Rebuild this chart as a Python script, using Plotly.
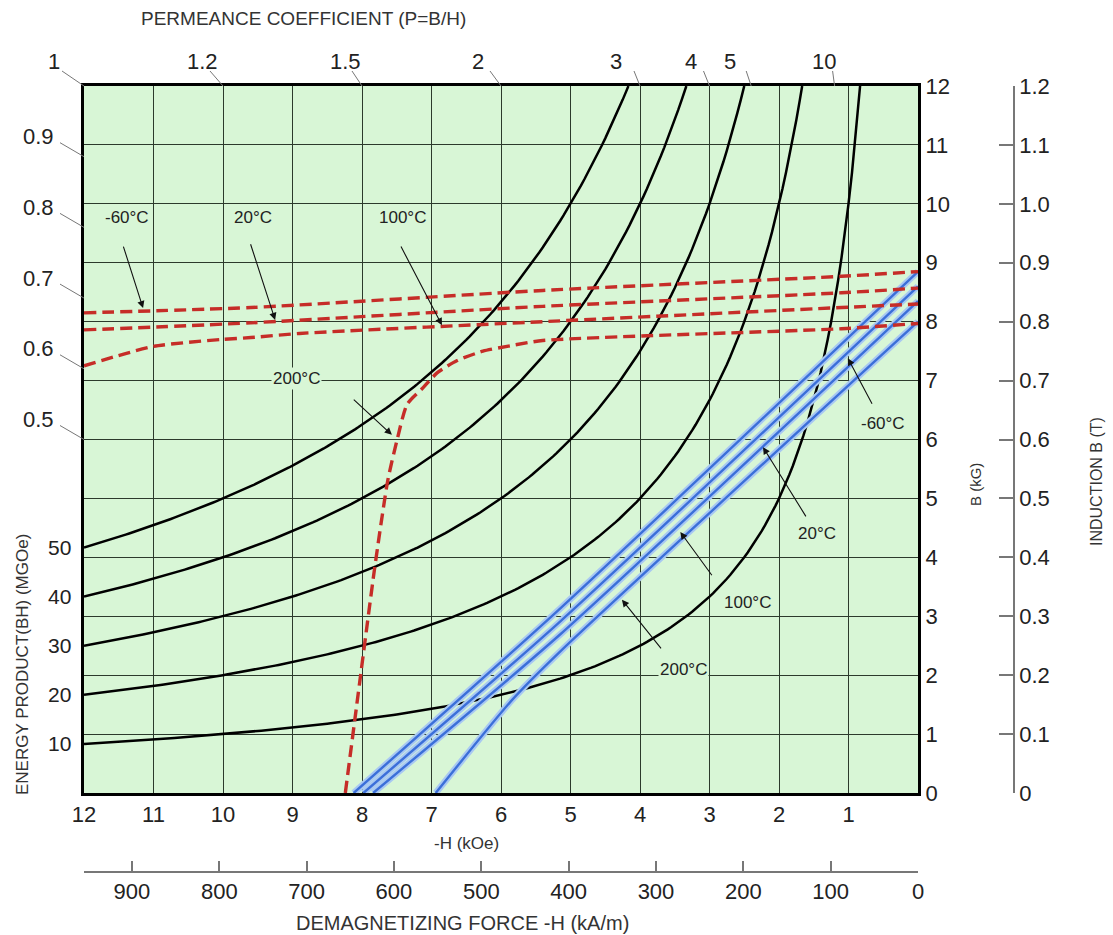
import plotly.graph_objects as go

# ---------------- data ----------------
# iso energy-product curves (MGOe): B*H = const
energy_levels = [10, 20, 30, 40, 50]

# intrinsic curves (red dashed): H (kOe), B (kG)
red_m60_H = [12, 9.6, 5.4, 1.1, 0]
red_m60_B = [8.15, 8.24, 8.53, 8.77, 8.85]
red_20_H = [12, 9.6, 5.4, 1.1, 0]
red_20_B = [7.86, 7.98, 8.26, 8.49, 8.57]
red_100_H = [12, 11, 10, 9.6, 8.9, 5.4, 1.1, 0]
red_100_B = [7.25, 7.58, 7.70, 7.73, 7.80, 8.00, 8.24, 8.30]
red_200_H = [8.24, 8.02, 7.82, 7.63, 7.50, 7.35, 7.12, 6.92, 6.63, 6.26, 5.87, 5.4, 1.1, 0]
red_200_B = [0.0, 2.0, 3.8, 5.3, 5.97, 6.60, 6.88, 7.13, 7.34, 7.50, 7.59, 7.68, 7.88, 7.97]

# normal curves (blue)
blue_m60_H = [8.12, 5.15, 0]
blue_m60_B = [0.0, 3.13, 8.85]
blue_20_H = [7.98, 5.15, 0]
blue_20_B = [0.0, 2.91, 8.60]
blue_100_H = [7.84, 5.15, 0]
blue_100_B = [0.0, 2.69, 8.35]
blue_200_H = [6.94, 5.84, 5.15, 0]
blue_200_B = [0.0, 1.58, 2.40, 8.00]

# axis tick values
H_ticks = [12, 11, 10, 9, 8, 7, 6, 5, 4, 3, 2, 1]
B_ticks = [0, 1, 2, 3, 4, 5, 6, 7, 8, 9, 10, 11, 12]
T_ticks = [0, 0.1, 0.2, 0.3, 0.4, 0.5, 0.6, 0.7, 0.8, 0.9, 1.0, 1.1, 1.2]
T_text = ["0", "0.1", "0.2", "0.3", "0.4", "0.5", "0.6", "0.7", "0.8", "0.9", "1.0", "1.1", "1.2"]
kAm_ticks = [900, 800, 700, 600, 500, 400, 300, 200, 100, 0]
top_P = [1, 1.2, 1.5, 2, 3, 4, 5, 10]
top_P_text = ["1", "1.2", "1.5", "2", "3", "4", "5", "10"]
left_P = [0.9, 0.8, 0.7, 0.6, 0.5]

# temperature labels: (text, text H, text B, tail H, tail B, tip H, tip B)
red_labels = [
    ("-60°C", 11.38, 9.76, 11.44, 9.30, 11.15, 8.23),
    ("20°C", 9.57, 9.76, 9.61, 9.34, 9.25, 8.03),
    ("100°C", 7.42, 9.76, 7.45, 9.30, 6.85, 7.94),
    ("200°C", 8.94, 7.04, 8.14, 6.70, 7.57, 6.08),
]
blue_labels = [
    ("-60°C", 0.50, 6.28, 0.65, 6.58, 1.01, 7.38),
    ("20°C", 1.45, 4.41, 1.60, 4.67, 2.23, 5.87),
    ("100°C", 2.45, 3.24, 2.95, 3.67, 3.42, 4.43),
    ("200°C", 3.38, 2.09, 3.68, 2.43, 4.26, 3.28),
]

KAM_PER_KOE = 79.577

# ---------------- layout geometry (pixels) ----------------
W, HGT = 1113, 935
PL, PR, PT, PB = 84, 918, 86, 793      # plot frame
AX2_Y = 872                            # kA/m axis line
AXT_X = 1014                           # Tesla axis line
paper_w = AXT_X - PL
paper_h = AX2_Y - PT
xdom = [0, (PR - PL) / paper_w]
ydom = [(AX2_Y - PB) / paper_h, 1]


def px(x):
    return (x - PL) / paper_w


def py(y):
    return (AX2_Y - y) / paper_h


def hx(h):  # H value -> pixel
    return PL + (12 - h) / 12 * (PR - PL)


def by(b):  # B value -> pixel
    return PB - b / 12 * (PB - PT)


FONT = "Liberation Sans, Arial, sans-serif"
GREEN = "#d8f6d6"
RED = "#c62d28"
BLUE = "#3b6fd9"
HALO = "#a8c8f2"

fig = go.Figure()

# black iso-energy curves
for E in energy_levels:
    hs = []
    h = 12.0
    hmin = E / 12.0
    while h > hmin:
        hs.append(h)
        h -= 0.05
    hs.append(hmin)
    fig.add_trace(go.Scatter(x=hs, y=[E / v for v in hs], mode="lines",
                             line=dict(color="black", width=2.5),
                             hoverinfo="skip", showlegend=False))

blue_sets = [(blue_m60_H, blue_m60_B), (blue_20_H, blue_20_B),
             (blue_100_H, blue_100_B), (blue_200_H, blue_200_B)]
# blue normal curves (halo + line)
for hh, bb in blue_sets:
    fig.add_trace(go.Scatter(x=hh, y=bb, mode="lines",
                             line=dict(color=HALO, width=6.5, shape="spline", smoothing=0.6),
                             hoverinfo="skip", showlegend=False))
for hh, bb in blue_sets:
    fig.add_trace(go.Scatter(x=hh, y=bb, mode="lines",
                             line=dict(color=BLUE, width=2.4, shape="spline", smoothing=0.6),
                             hoverinfo="skip", showlegend=False))

# red dashed intrinsic curves
for hh, bb in [(red_m60_H, red_m60_B), (red_20_H, red_20_B),
               (red_100_H, red_100_B), (red_200_H, red_200_B)]:
    fig.add_trace(go.Scatter(x=hh, y=bb, mode="lines",
                             line=dict(color=RED, width=3.4, dash="12px,6px",
                                       shape="spline", smoothing=0.6),
                             hoverinfo="skip", showlegend=False))

# dummy traces so the secondary axes exist
fig.add_trace(go.Scatter(x=[500], y=[5], xaxis="x2", yaxis="y", mode="markers",
                         marker=dict(opacity=0), hoverinfo="skip", showlegend=False))
fig.add_trace(go.Scatter(x=[5], y=[0.5], xaxis="x", yaxis="y2", mode="markers",
                         marker=dict(opacity=0), hoverinfo="skip", showlegend=False))

annotations = []
shapes = []


def ptext(x, y, text, size, color="#222", angle=0):
    return dict(x=px(x), y=py(y), xref="paper", yref="paper", text=text, showarrow=False,
                xanchor="center", yanchor="middle", textangle=angle,
                font=dict(family=FONT, size=size, color=color))


# temperature labels
for lab in red_labels + blue_labels:
    t, tx, ty, ax_, ay_, hx_, hy_ = lab
    annotations.append(dict(x=tx, y=ty, xref="x", yref="y", text=t, showarrow=False,
                            xanchor="center", yanchor="middle",
                            font=dict(family=FONT, size=17, color="#222"),
                            bgcolor=GREEN, borderpad=1))
    annotations.append(dict(x=hx_, y=hy_, xref="x", yref="y", ax=ax_, ay=ay_,
                            axref="x", ayref="y", text="", showarrow=True,
                            arrowhead=2, arrowsize=1.3, arrowwidth=1.1, arrowcolor="#111"))

# energy product labels on the left
for E in energy_levels:
    annotations.append(dict(x=px(73), y=E / 12.0, xref="paper", yref="y", text=str(E),
                            showarrow=False, xanchor="right", yanchor="middle",
                            font=dict(family=FONT, size=21, color="#222")))

# permeance labels on top
top_dx_text = [-30, -21, -17, -23, -24, -19, -21, -11]
top_dx_lead = [-22, -13, -10, -11, -6, -6, -5, -2]
for p, t, dxt, dxl in zip(top_P, top_P_text, top_dx_text, top_dx_lead):
    ex = hx(12.0 / p)
    annotations.append(ptext(ex + dxt, PT - 24, t, 22))
    shapes.append(dict(type="line", xref="paper", yref="paper",
                       x0=px(ex + dxl), y0=py(PT - 15), x1=px(ex), y1=py(PT),
                       line=dict(color="#777", width=1)))

# permeance labels on the left
for p in left_P:
    ey = by(12.0 * p)
    annotations.append(ptext(38, ey - 20, f"{p:.1f}", 22))
    shapes.append(dict(type="line", xref="paper", yref="paper",
                       x0=px(60), y0=py(ey - 14), x1=px(PL), y1=py(ey),
                       line=dict(color="#777", width=1)))

# titles
annotations += [
    ptext(303, 18, "PERMEANCE COEFFICIENT (P=B/H)", 19, "#333"),
    ptext(466, 843, "-H (kOe)", 17, "#333"),
    ptext(462, 923, "DEMAGNETIZING FORCE -H (kA/m)", 20, "#333"),
    ptext(22, 665, "ENERGY PRODUCT(BH) (MGOe)", 17, "#333", -90),
    ptext(975, 485, "B (kG)", 15, "#333", -90),
    ptext(1097, 482, "INDUCTION B (T)", 16, "#333", -90),
]

fig.update_layout(
    width=W, height=HGT,
    margin=dict(l=PL, r=W - AXT_X, t=PT, b=HGT - AX2_Y, pad=0),
    paper_bgcolor="white", plot_bgcolor=GREEN,
    showlegend=False,
    font=dict(family=FONT, color="#222"),
    xaxis=dict(domain=xdom, range=[12, 0], tickvals=H_ticks, ticktext=[str(v) for v in H_ticks],
               showgrid=True, gridcolor="#2c3a2c", gridwidth=1, zeroline=False,
               showline=True, mirror=True, linecolor="black", linewidth=3,
               ticks="", tickfont=dict(family=FONT, size=22, color="#222")),
    yaxis=dict(domain=ydom, range=[0, 12], tickvals=B_ticks, ticktext=[str(v) for v in B_ticks],
               side="right", showgrid=True, gridcolor="#2c3a2c", gridwidth=1, zeroline=False,
               showline=True, mirror=True, linecolor="black", linewidth=3,
               ticks="", tickfont=dict(family=FONT, size=22, color="#222")),
    xaxis2=dict(overlaying="x", anchor="free", position=0, side="bottom",
                range=[12 * KAM_PER_KOE, 0], tickvals=kAm_ticks,
                ticktext=[str(v) for v in kAm_ticks], showgrid=False, zeroline=False,
                showline=True, linecolor="#777", linewidth=1.5,
                ticks="inside", ticklen=10, tickcolor="#777", tickwidth=1.5,
                tickfont=dict(family=FONT, size=22, color="#222")),
    yaxis2=dict(overlaying="y", anchor="free", position=1, side="right",
                range=[0, 1.2], tickvals=T_ticks, ticktext=T_text, showgrid=False,
                zeroline=False, showline=True, linecolor="#777", linewidth=1.5,
                ticks="inside", ticklen=14, tickcolor="#777", tickwidth=1.5,
                tickfont=dict(family=FONT, size=22, color="#222")),
    annotations=annotations,
    shapes=shapes,
)

fig.write_html("out.html")
